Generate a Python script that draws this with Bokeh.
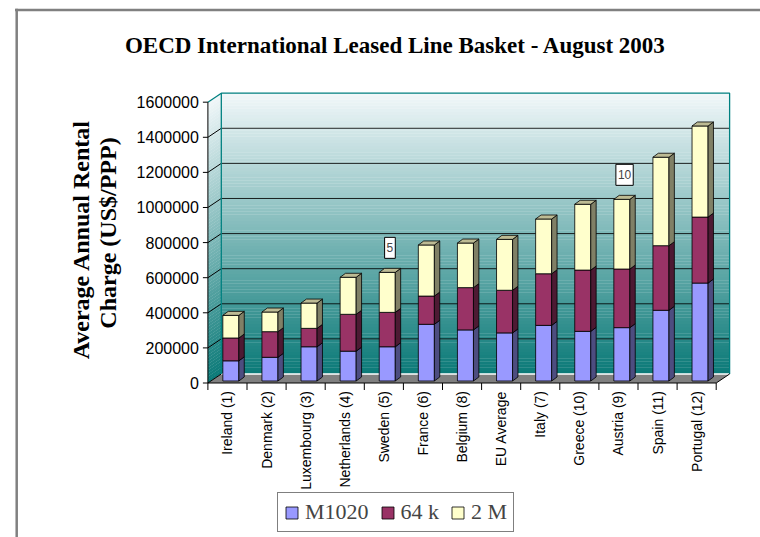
from math import pi
import numpy as np
from bokeh.plotting import figure
from bokeh.models import Range1d, Label, Legend, LegendItem
from bokeh.core.properties import value
from bokeh.embed import file_html
from bokeh.resources import INLINE

# ---------------- data ----------------
categories = ["Ireland (1)", "Denmark (2)", "Luxembourg (3)", "Netherlands (4)",
              "Sweden (5)", "France (6)", "Belgium (8)", "EU Average",
              "Italy (7)", "Greece (10)", "Austria (9)", "Spain (11)",
              "Portugal (12)"]
m1020 = [115000, 135000, 195000, 170000, 195000, 323000, 291000, 274000,
         317000, 283000, 304000, 403000, 558000]
k64 = [130000, 146000, 105000, 210000, 196000, 161000, 241000, 243000,
       294000, 349000, 334000, 368000, 376000]
m2 = [129000, 112000, 144000, 211000, 228000, 291000, 254000, 290000,
      312000, 375000, 397000, 504000, 519000]
rank_labels = ["", "", "", "", "5", "", "", "", "", "", "10", "", ""]
series_names = ["M1020", "64 k", "2 M"]
y_ticks = [0, 200000, 400000, 600000, 800000, 1000000, 1200000, 1400000, 1600000]
y_tick_labels = [str(v) for v in y_ticks]
title_text = "OECD International Leased Line Basket - August 2003"
ylabel_lines = ["Average Annual Rental", "Charge (US$/PPP)"]

# ---------------- style / layout ----------------
FRONT = ["#9999FF", "#993366", "#FFFFCC"]
SIDE = ["#4D4D80", "#4D1A33", "#808066"]
TOP = ["#7A7AC0", "#7A2952", "#BDBB94"]
DX, DY = 0.343, 51300          # wall depth (category units, value units)
BW = 0.41                      # bar width
BOX, BOY = 0.087, 11400        # bar front-face offset into depth
BDX, BDY = 0.138, 22800        # bar depth
SERIF = "Liberation Serif"
SANS = "Liberation Sans"
W, H = 760, 537
PX_PER_CAT = 39.1
UNITS_PER_PX = 5697.6
ORIGIN_X_PX, ORIGIN_Y_PX = 207.4, 382.5   # where (-0.5, 0) sits on the canvas

n = len(categories)
xs = np.arange(n, dtype=float)
x_lo, x_hi = -0.5, n - 0.5
YMAX = y_ticks[-1]

X0 = x_lo - ORIGIN_X_PX / PX_PER_CAT
X1 = X0 + W / PX_PER_CAT
YTOP = ORIGIN_Y_PX * UNITS_PER_PX
YBOT = YTOP - H * UNITS_PER_PX
def sx(px):
    return X0 + px / PX_PER_CAT
def sy(py):
    return YTOP - py * UNITS_PER_PX

p = figure(frame_width=W, frame_height=H, x_range=Range1d(X0, X1),
           y_range=Range1d(YBOT, YTOP), output_backend="svg",
           toolbar_location=None, x_axis_location=None, y_axis_location=None,
           title_location=None, min_border=0)
p.xgrid.visible = False
p.ygrid.visible = False
p.outline_line_color = None
p.background_fill_color = "white"
p.border_fill_color = "white"

# outer grey frame
p.segment(x0=[sx(14.5), sx(16.2)], y0=[sy(9.5), sy(8.3)],
          x1=[sx(W), sx(16.2)], y1=[sy(9.5), sy(H)],
          line_color="#808080", line_width=2.5)

# ---------------- walls (gradient) ----------------
c_bot = np.array([11, 122, 120])
c_top = np.array([242, 248, 250])
N = 90
def grad(t):
    c = (c_bot + (c_top - c_bot) * t).astype(int)
    return "#%02x%02x%02x" % tuple(c)

band_b = [YMAX * i / N for i in range(N)]
band_t = [YMAX * (i + 1) / N + 1500 for i in range(N)]
band_c = [grad((i + 0.5) / N) for i in range(N)]
p.quad(left=x_lo + DX, right=x_hi + DX,
       bottom=[b + DY for b in band_b], top=[t + DY for t in band_t],
       fill_color=band_c, line_color=None)
p.patches(xs=[[x_lo, x_lo + DX, x_lo + DX, x_lo] for _ in range(N)],
          ys=[[b, b + DY, t + DY, t] for b, t in zip(band_b, band_t)],
          fill_color=band_c, line_color=None)

# floor
p.patch([x_lo, x_hi, x_hi + DX, x_lo + DX], [0, 0, DY, DY],
        fill_color="#808080", line_color=None)

# gridlines
gv = y_ticks[1:-1]
p.segment(x0=[x_lo + DX] * len(gv), y0=[v + DY for v in gv],
          x1=[x_hi + DX] * len(gv), y1=[v + DY for v in gv],
          line_color="black", line_alpha=0.85, line_width=1)
sv = y_ticks[:-1]
p.segment(x0=[x_lo] * len(sv), y0=sv, x1=[x_lo + DX] * len(sv),
          y1=[v + DY for v in sv], line_color="black", line_width=1)
p.segment(x0=[x_lo + DX], y0=[DY], x1=[x_hi + DX], y1=[DY],
          line_color="white", line_width=1.5)
# teal wall borders
p.multi_line(xs=[[x_lo + DX, x_lo + DX, x_hi + DX, x_hi + DX],
                 [x_lo, x_lo + DX]],
             ys=[[DY, YMAX + DY, YMAX + DY, DY], [YMAX, YMAX + DY]],
             line_color="#008080", line_width=1.3)
# front value axis + floor edges
p.multi_line(xs=[[x_lo, x_lo], [x_lo, x_hi, x_hi + DX]],
             ys=[[0, YMAX], [0, 0, DY]], line_color="black", line_width=1)

# value-axis ticks and labels
tick_len_x = 5 / PX_PER_CAT
p.segment(x0=[x_lo - tick_len_x] * len(y_ticks), y0=y_ticks,
          x1=[x_lo] * len(y_ticks), y1=y_ticks, line_color="black", line_width=1)
p.text(x=[x_lo] * len(y_ticks), y=y_ticks, text=y_tick_labels, x_offset=-9,
       text_align="right", text_baseline="middle", text_font=value(SANS),
       text_font_size="16px", text_color="black")

# category-axis ticks (at category boundaries) and labels
bounds = [x_lo + k for k in range(n + 1)]
tick_len_y = 7 * UNITS_PER_PX
p.segment(x0=bounds, y0=[0] * len(bounds), x1=bounds,
          y1=[-tick_len_y] * len(bounds), line_color="black", line_width=1)
p.text(x=xs, y=[0] * n, text=categories, angle=pi / 2, y_offset=8,
       text_align="right", text_baseline="middle", text_font=value(SANS),
       text_font_size="14px", text_color="black")

# ---------------- bars ----------------
series = [m1020, k64, m2]
cum = np.zeros(n)
legend_items = []
for s, vals in enumerate(series):
    vals = np.array(vals, dtype=float)
    left = xs + BOX - BW / 2
    right = xs + BOX + BW / 2
    bot = cum + BOY
    top = cum + vals + BOY
    r = p.quad(left=left, right=right, bottom=bot, top=top,
               fill_color=FRONT[s], line_color="black", line_width=0.8)
    legend_items.append(LegendItem(label=series_names[s], renderers=[r]))
    p.patches(xs=[[rr, rr + BDX, rr + BDX, rr] for rr in right],
              ys=[[b, b + BDY, t + BDY, t] for b, t in zip(bot, top)],
              fill_color=SIDE[s], line_color="black", line_width=0.8)
    if s == len(series) - 1:
        p.patches(xs=[[l, rr, rr + BDX, l + BDX] for l, rr in zip(left, right)],
                  ys=[[t, t, t + BDY, t + BDY] for t in top],
                  fill_color=TOP[s], line_color="black", line_width=0.8)
    cum = cum + vals
totals = cum

for i, lab in enumerate(rank_labels):
    if lab:
        p.add_layout(Label(x=xs[i] + BOX + BDX / 2, y=totals[i] + BOY,
                           y_offset=14, text=lab, text_align="center",
                           text_baseline="bottom", text_font=SANS,
                           text_font_size="12px", padding=(2, 6),
                           background_fill_color="white",
                           border_line_color="black", border_line_width=1))

# ---------------- title and value-axis title ----------------
p.text(x=[sx(395)], y=[sy(44.5)], text=[title_text], text_align="center",
       text_baseline="middle", text_font=value(SERIF),
       text_font_style="bold", text_font_size="23px", text_color="black")
p.text(x=[sx(80), sx(107.5)], y=[sy(239), sy(232.5)], text=ylabel_lines,
       angle=pi / 2, text_align="center", text_baseline="middle",
       text_font=value(SERIF), text_font_style="bold", text_font_size="24px",
       text_color="black")

# ---------------- legend ----------------
legend = Legend(items=legend_items, location=(277, H - 532),
                orientation="horizontal",
                label_text_font=SERIF, label_text_font_size="22px",
                glyph_width=15, glyph_height=15, label_standoff=6, spacing=11,
                padding=6, margin=0, border_line_color="black",
                border_line_width=1, background_fill_color="white",
                background_fill_alpha=1)
p.add_layout(legend, "center")

open("out.html", "w").write(file_html(p, INLINE))
